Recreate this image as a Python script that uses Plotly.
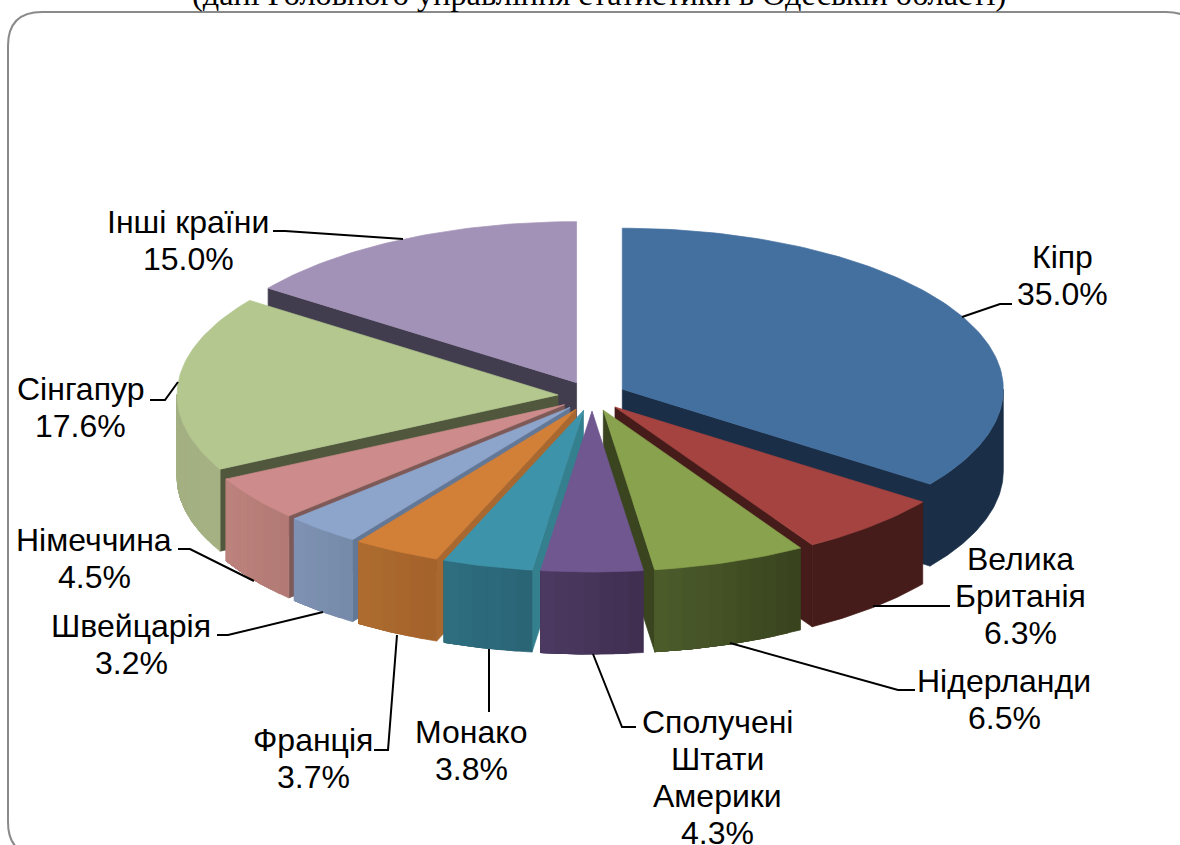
import math
import plotly.graph_objects as go

# ---- data ----
countries = ["Кіпр", "Велика\nБританія", "Нідерланди", "Сполучені\nШтати\nАмерики", "Монако",
             "Франція", "Швейцарія", "Німеччина", "Сінгапур", "Інші країни"]
shares = [35.0, 6.3, 6.5, 4.3, 3.8, 3.7, 3.2, 4.5, 17.6, 15.0]
title_text = "(дані Головного управління статистики в Одеській області)"

# ---- styles ----
top_colors = ["#44709f", "#a54340", "#89a24e", "#70578f", "#3d94aa",
              "#d27f38", "#8ea5cb", "#cd8c8b", "#b3c78f", "#a392b7"]
face_colors = ["#1a2e47", "#451c19", "#3a4520", "#3a2c4a", "#34808f",
               "#a8682f", "#627896", "#7d5a58", "#50573c", "#423d4e"]
wall_left = ["#1a2e47", "#451c19", "#4c5c2b", "#4d3a62", "#2e6f80",
             "#ae6c30", "#8092b3", "#bd827c", "#a3b083", "#423d4e"]
wall_right = ["#1a2e47", "#451c19", "#38431e", "#3f2e50", "#2a6475",
              "#a3622a", "#7589a8", "#b27a75", "#a5b183", "#423d4e"]

# ---- projection of the tilted, exploded pie onto the page ----
CX, CY = 592.0, 396.0
RX, RY = 381.0, 161.0
EX, EY = 34.0, 15.0
DEPTH = 82.0

# ---- label layout ----
label_x = [1062, 1020, 1004, 717, 471, 313, 131, 94, 80, 188]
label_y = [257, 559, 681, 722, 732, 740, 626, 540, 389, 222]
LINE_STEP = 37
leaders = [
    [(1012, 304), (1000, 304), (962, 317)],
    [(950, 606), (873, 606)],
    [(915, 690), (898, 690), (730, 643)],
    [(636, 727), (622, 727), (593, 654)],
    [(489, 712), (489, 649)],
    [(374, 750), (388, 750), (397, 635)],
    [(217, 635), (228, 635), (323, 612)],
    [(178, 549), (190, 549), (254, 581)],
    [(150, 400), (165, 400), (178, 382)],
    [(273, 231), (285, 231), (403, 239)],
]


def rgb(hexcol):
    return tuple(int(hexcol[i:i + 2], 16) for i in (1, 3, 5))


def mix(a, b, t):
    ca, cb = rgb(a), rgb(b)
    return "rgb(%d,%d,%d)" % tuple(round(x + (y - x) * t) for x, y in zip(ca, cb))


total = sum(shares)
slices = []
acc = 0.0
for i, v in enumerate(shares):
    a0 = acc / total * 2 * math.pi
    acc += v
    a1 = acc / total * 2 * math.pi
    slices.append((i, a0, a1))

fig = go.Figure()


def poly(xs, ys, color, name=None, hover=False):
    fig.add_trace(go.Scatter(
        x=xs + xs[:1], y=ys + ys[:1], mode="lines", fill="toself", fillcolor=color,
        line=dict(color=color, width=0.7), showlegend=False, name=name or "",
        hoverinfo="name" if hover else "skip"))


def draw_slice(i, a0, a1):
    mid = (a0 + a1) / 2
    ax = CX + EX * math.sin(mid)
    ay = CY - EY * math.cos(mid)
    pt = lambda t: (ax + RX * math.sin(t), ay - RY * math.cos(t))

    # radial faces that turn towards the viewer
    for edge, visible in ((a1, math.sin(a1) > 0), (a0, math.sin(a0) < 0)):
        if visible:
            ex, ey = pt(edge)
            poly([ax, ex, ex, ax], [ay, ey, ey + DEPTH, ay + DEPTH], face_colors[i])

    # outer wall, front half only. Each shaded band runs on to the wall's far end
    # and the next one paints over it, so no seams show between the bands.
    w0 = max(a0, math.pi / 2)
    w1 = min(a1, 3 * math.pi / 2)
    if w1 > w0:
        strips = 1 if wall_left[i] == wall_right[i] else max(2, int((w1 - w0) / 0.035))
        for k in range(strips):
            t0 = w0 + (w1 - w0) * k / strips
            n = max(4, int((w1 - t0) / 0.01))
            upper = [pt(t0 + (w1 - t0) * j / n) for j in range(n + 1)]
            xs = [p[0] for p in upper] + [p[0] for p in reversed(upper)]
            ys = [p[1] for p in upper] + [p[1] + DEPTH for p in reversed(upper)]
            # arcs run right-to-left across the front, so shade from the right colour
            poly(xs, ys, mix(wall_right[i], wall_left[i], (k + 0.5) / strips))

    # top face
    n = max(6, int((a1 - a0) / 0.02))
    arc = [pt(a0 + (a1 - a0) * j / n) for j in range(n + 1)]
    xs = [ax] + [p[0] for p in arc]
    ys = [ay] + [p[1] for p in arc]
    label = countries[i].replace("\n", " ") + ": %.1f%%" % shares[i]
    poly(xs, ys, top_colors[i], name=label, hover=True)


# paint from the back of the pie to the front
for i, a0, a1 in sorted(slices, key=lambda s: -math.cos((s[1] + s[2]) / 2)):
    draw_slice(i, a0, a1)

# ---- labels: each line is placed separately to keep the tight line spacing ----
annotations = []
for i, name in enumerate(countries):
    lines = name.split("\n") + ["%.1f%%" % shares[i]]
    for k, line in enumerate(lines):
        annotations.append(dict(
            x=label_x[i], y=label_y[i] + k * LINE_STEP, xref="x", yref="y", text=line,
            showarrow=False, xanchor="center", yanchor="middle",
            font=dict(family="Liberation Sans", size=32, color="#000000")))
annotations.append(dict(
    x=599, y=14, xref="x", yref="y", text=title_text, showarrow=False,
    xanchor="center", yanchor="bottom",
    font=dict(family="Liberation Serif", size=32.3, color="#000000")))

shapes = []
for pts in leaders:
    path = "M " + " L ".join("%g,%g" % p for p in pts)
    shapes.append(dict(type="path", path=path, xref="x", yref="y", layer="above",
                       line=dict(color="#000000", width=2)))

# rounded frame
L, T, R, B, C = 8.0, 12.0, 1200.0, 856.0, 34.0
frame = (f"M {L+C},{T} L {R-C},{T} Q {R},{T} {R},{T+C} L {R},{B-C} Q {R},{B} {R-C},{B} "
         f"L {L+C},{B} Q {L},{B} {L},{B-C} L {L},{T+C} Q {L},{T} {L+C},{T} Z")
shapes.insert(0, dict(type="path", path=frame, xref="x", yref="y", layer="below",
                      line=dict(color="#8a8a8a", width=2), fillcolor="#ffffff"))

fig.update_layout(
    width=1180, height=845, autosize=False,
    margin=dict(l=0, r=0, t=0, b=0), paper_bgcolor="#ffffff", plot_bgcolor="#ffffff",
    xaxis=dict(visible=False, range=[0, 1180], fixedrange=True),
    yaxis=dict(visible=False, range=[845, 0], fixedrange=True),
    annotations=annotations, shapes=shapes, showlegend=False,
)

fig.write_html("out.html", config={"displayModeBar": False},
               post_script="document.body.style.margin='0';document.body.style.overflow='hidden';")
